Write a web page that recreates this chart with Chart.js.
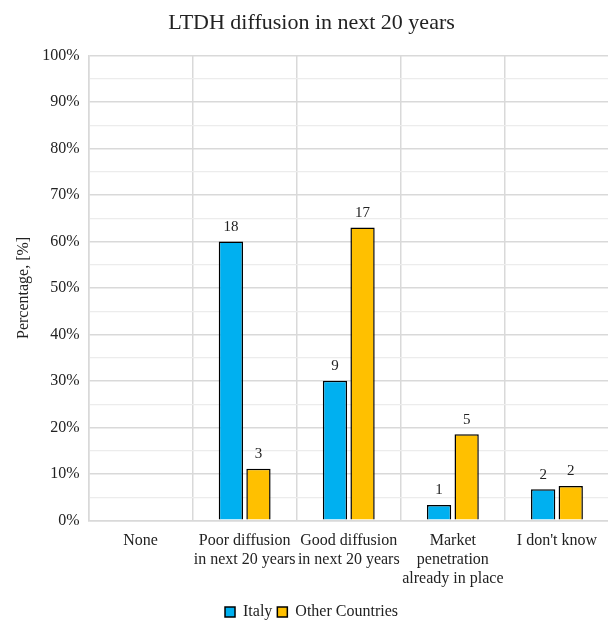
<!DOCTYPE html>
<html>
<head>
<meta charset="utf-8">
<script src="https://cdn.jsdelivr.net/npm/chart.js@4"></script>
<style>
html,body{margin:0;padding:0;background:#fff;overflow:hidden;}
#wrap{width:612px;height:630px;position:relative;}
</style>
</head>
<body>
<div id="wrap"><canvas id="c"></canvas></div>
<script>
const categories = [
  ['None'],
  ['Poor diffusion', 'in next 20 years'],
  ['Good diffusion', 'in next 20 years'],
  ['Market', 'penetration', 'already in place'],
  ["I don't know"]
];
const seriesNames = ['Italy', 'Other Countries'];
const italyPct = [0, 60, 30, 3.3, 6.7];
const otherPct = [0, 11.1, 63, 18.5, 7.4];
const italyCount = [0, 18, 9, 1, 2];
const otherCount = [0, 3, 17, 5, 2];
const yTicks = [0, 10, 20, 30, 40, 50, 60, 70, 80, 90, 100];

const FONT = "'Liberation Serif', 'Times New Roman', serif";

const countLabels = {
  id: 'countLabels',
  afterDatasetsDraw(chart) {
    const ctx = chart.ctx;
    const counts = [italyCount, otherCount];
    ctx.save();
    ctx.font = "15px " + FONT;
    ctx.fillStyle = '#222';
    ctx.textAlign = 'center';
    ctx.textBaseline = 'bottom';
    chart.data.datasets.forEach((ds, di) => {
      const meta = chart.getDatasetMeta(di);
      meta.data.forEach((bar, i) => {
        const c = counts[di][i];
        if (!c) return;
        ctx.fillText(String(c), bar.x, bar.y - 7);
      });
    });
    ctx.restore();
  }
};

new Chart(document.getElementById('c'), {
  type: 'bar',
  data: {
    labels: categories,
    datasets: [
      { label: seriesNames[0], data: italyPct, backgroundColor: '#00B0F0', borderColor: '#000', borderWidth: 1.5,
        categoryPercentage: 0.53, barPercentage: 0.88 },
      { label: seriesNames[1], data: otherPct, backgroundColor: '#FFC000', borderColor: '#000', borderWidth: 1.5,
        categoryPercentage: 0.53, barPercentage: 0.88 }
    ]
  },
  options: {
    responsive: true,
    maintainAspectRatio: false,
    animation: false,
    layout: { padding: { left: 14, right: 3, top: 4, bottom: 0 } },
    plugins: {
      title: {
        display: true,
        text: 'LTDH diffusion in next 20 years',
        color: '#222',
        font: { family: FONT, size: 22, weight: 'normal' },
        padding: { top: 6, bottom: 19 }
      },
      legend: {
        position: 'bottom',
        labels: {
          color: '#222',
          font: { family: FONT, size: 16 },
          boxWidth: 10,
          boxHeight: 10,
          padding: 5
        }
      },
      tooltip: { enabled: false }
    },
    scales: {
      x: {
        grid: { color: '#d9d9d9', lineWidth: 1.5, drawTicks: false, offset: true },
        border: { color: '#d9d9d9', width: 1.5 },
        ticks: { color: '#222', font: { family: FONT, size: 16, lineHeight: 1.18 }, maxRotation: 0, minRotation: 0, autoSkip: false, padding: 11 }
      },
      y: {
        min: 0, max: 100,
        afterBuildTicks(axis) {
          const t = [];
          for (let v = 0; v <= 100; v += 5) t.push({ value: v });
          axis.ticks = t;
        },
        grid: {
          drawTicks: false,
          color: (ctx) => (ctx.tick && ctx.tick.value % 10 === 0) ? '#d9d9d9' : '#ececec',
          lineWidth: (ctx) => (ctx.tick && ctx.tick.value % 10 === 0) ? 1.5 : 1.2
        },
        border: { color: '#d9d9d9', width: 1.5 },
        ticks: {
          color: '#222',
          font: { family: FONT, size: 16 },
          padding: 9,
          callback: (v) => yTicks.includes(v) ? v + '%' : ''
        },
        title: {
          display: true,
          text: 'Percentage, [%]',
          color: '#222',
          font: { family: FONT, size: 16 },
          padding: { top: 0, bottom: 0 }
        }
      }
    }
  },
  plugins: [countLabels]
});
</script>
</body>
</html>
